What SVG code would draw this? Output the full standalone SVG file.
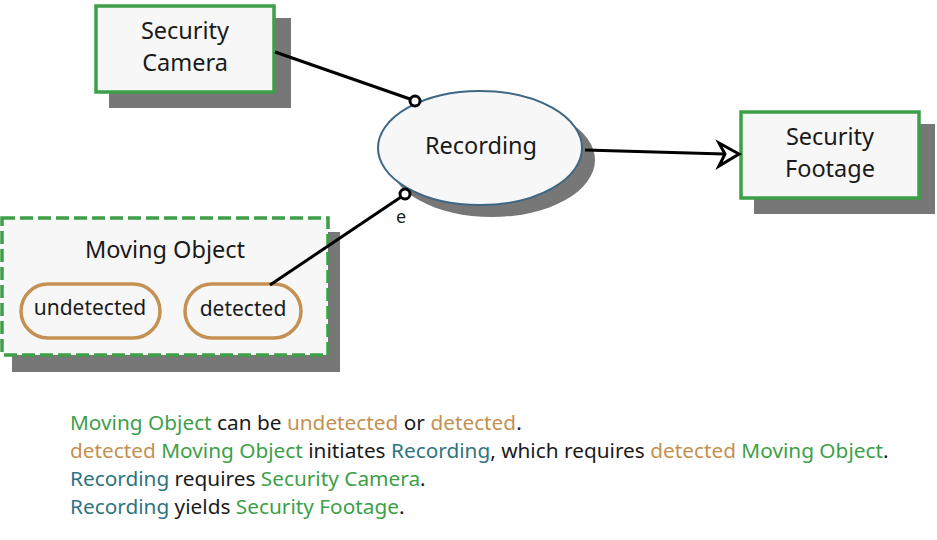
<svg xmlns="http://www.w3.org/2000/svg" width="937" height="540" viewBox="0 0 937 540">
<style>
text{font-family:"Noto Sans","Open Sans",sans-serif;fill:#1a1a1a}
.lbl{font-size:23.5px;text-anchor:middle}
.sl{font-size:21px;text-anchor:middle}
.sh{fill:#777777}
.obj{fill:#f7f7f7;stroke:#3da048;stroke-width:3.5}
.st{fill:#f7f7f7;stroke:#c49152;stroke-width:3.5}
.lk{stroke:#000;stroke-width:3;fill:none}
.g{fill:#3da048}.o{fill:#c49152}.t{fill:#2e7480}
.desc{font-size:20.8px}
</style>
<g id="security-camera">
<rect class="sh" x="109" y="18" width="182" height="90"/>
<rect class="obj" x="96" y="6" width="178" height="86"/>
<text class="lbl" x="185" y="39">Security</text>
<text class="lbl" x="185" y="71">Camera</text>
</g>
<g id="recording">
<ellipse class="sh" cx="492" cy="160" rx="103" ry="57"/>
<ellipse cx="480" cy="148" rx="102" ry="57" fill="#f7f7f7" stroke="#3d6785" stroke-width="2"/>
<text class="lbl" x="481" y="154">Recording</text>
</g>
<g id="security-footage">
<rect class="sh" x="754" y="124" width="181" height="90"/>
<rect class="obj" x="741" y="112" width="178" height="86"/>
<text class="lbl" x="830" y="145">Security</text>
<text class="lbl" x="830" y="177">Footage</text>
</g>
<g id="moving-object">
<rect class="sh" x="12" y="232" width="328" height="140"/>
<rect class="obj" x="2" y="218" width="326" height="137" stroke-dasharray="13,5"/>
<text class="lbl" x="165" y="258">Moving Object</text>
<g id="undetected">
<rect class="st" x="21" y="284" width="139" height="54" rx="27"/>
<text class="sl" x="90" y="315">undetected</text>
</g>
<g id="detected">
<rect class="st" x="185" y="284" width="116" height="54" rx="27"/>
<text class="sl" x="243" y="316">detected</text>
</g>
</g>
<g id="connectors">
<line class="lk" x1="275" y1="52" x2="410" y2="99"/>
<circle cx="415" cy="101" r="5" fill="#fff" stroke="#000" stroke-width="3"/>
<line class="lk" x1="270" y1="285" x2="401" y2="197"/>
<circle cx="405" cy="194" r="5" fill="#fff" stroke="#000" stroke-width="3"/>
<text x="401" y="223" style="font-size:18px;text-anchor:middle">e</text>
<line class="lk" x1="585" y1="150" x2="724" y2="154"/>
<path d="M739,154 L719,143 L725,154 L719,166 Z" fill="#fff" stroke="#000" stroke-width="3" stroke-linejoin="miter"/>
</g>
<g id="description">
<text x="70" y="430" class="desc"><tspan class="g">Moving Object</tspan> can be <tspan class="o">undetected</tspan> or <tspan class="o">detected</tspan>.</text>
<text x="70" y="458" class="desc"><tspan class="o">detected</tspan> <tspan class="g">Moving Object</tspan> initiates <tspan class="t">Recording</tspan>, which requires <tspan class="o">detected</tspan> <tspan class="g">Moving Object</tspan>.</text>
<text x="70" y="486" class="desc"><tspan class="t">Recording</tspan> requires <tspan class="g">Security Camera</tspan>.</text>
<text x="70" y="514" class="desc"><tspan class="t">Recording</tspan> yields <tspan class="g">Security Footage</tspan>.</text>
</g>
</svg>
